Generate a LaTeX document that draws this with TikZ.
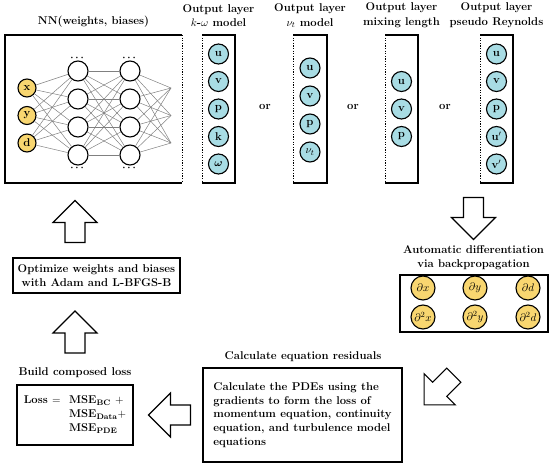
\documentclass[tikz,border=0pt]{standalone}
\usepackage{amsmath}
\usepackage{bm}
\usetikzlibrary{calc}

\definecolor{nodeyellow}{RGB}{248,214,112}
\definecolor{nodecyan}{RGB}{168,220,228}
\newcommand{\figfont}{\fontsize{11.3}{13.8}\selectfont\bfseries}

\begin{document}
\begin{tikzpicture}[x=1pt, y=-1pt, line width=1.1pt,
  every node/.style={font=\figfont},
  neuron/.style={circle, draw, minimum size=20pt, inner sep=0pt, fill=white},
  innode/.style={neuron, minimum size=18pt, fill=nodeyellow},
  outnode/.style={neuron, fill=nodecyan},
  gradnode/.style={neuron, minimum size=24pt, fill=nodeyellow, font=\fontsize{11}{13}\selectfont},
  textbox/.style={draw, inner sep=0pt},
  wire/.style={gray, line width=0.5pt},
  dashedge/.style={line width=0.9pt, dash pattern=on 1.3pt off 1.3pt},
  netdots/.style={font=\normalsize, inner sep=0pt},
  blockarrow/.pic={\draw[line join=miter] (0,-21) -- (22,1) -- (10,1) -- (10,21)
      -- (-10,21) -- (-10,1) -- (-22,1) -- cycle;}]
  \useasboundingbox (0,0) rectangle (550,468);

  % network
  \draw (182,35) -- (5,35) -- (5,183) -- (182,183);
  \draw[dashedge] (182,35) -- (182,183);
  \node at (93.5,22) {NN(weights, biases)};
  \node[innode] (in1) at (27,88) {x};
  \node[innode] (in2) at (27,115.5) {y};
  \node[innode] (in3) at (27,143) {d};
  \foreach \j in {1,...,4} {
    \node[neuron] (ha\j) at (78,{71+28*(\j-1)}) {};
    \node[neuron] (hb\j) at (130,{71+28*(\j-1)}) {};
  }
  \coordinate (out1) at (171,88);
  \coordinate (out2) at (171,115.5);
  \coordinate (out3) at (171,143);
  \foreach \j in {1,...,4} {
    \foreach \i in {1,2,3} {
      \draw[wire] (in\i) -- (ha\j);
      \draw[wire] (hb\j) -- (out\i);
    }
    \foreach \m in {1,...,4} \draw[wire] (ha\j) -- (hb\m);
  }
  \node[netdots] (dotsa) at (78,58) {$\bm{\cdots}$};
  \node[netdots] (dotsb) at (130,58) {$\bm{\cdots}$};
  \node[netdots] (dotsc) at (78,168) {$\bm{\cdots}$};
  \node[netdots] (dotsd) at (130,168) {$\bm{\cdots}$};

  % output layers
  \draw (202,35) -- (235,35) -- (235,183) -- (202,183);
  \draw[dashedge] (202,35) -- (202,183);
  \node[align=center] at (218.5,15.5) {Output layer\\[1pt]$k$-$\omega$ model};
  \foreach \lbl [count=\i] in {u,v,p,k,$\bm{\omega}$}
    \node[outnode] (kw\i) at (218.5,{54+27.5*(\i-1)}) {\lbl};
  \node (or1) at (265,107) {or};

  \draw (293,35) -- (327,35) -- (327,183) -- (293,183);
  \draw[dashedge] (293,35) -- (293,183);
  \node[align=center] at (310,15.5) {Output layer\\[1pt]$\nu_t$ model};
  \foreach \lbl [count=\i] in {u,v,p,$\nu_t$}
    \node[outnode] (nu\i) at (310,{68+28*(\i-1)}) {\lbl};
  \node (or2) at (353,107) {or};

  \draw (385,35) -- (418,35) -- (418,183) -- (385,183);
  \draw[dashedge] (385,35) -- (385,183);
  \node[align=center] at (401.5,15.5) {Output layer\\[1pt]mixing length};
  \foreach \lbl [count=\i] in {u,v,p}
    \node[outnode] (ml\i) at (401.5,{81.5+27.5*(\i-1)}) {\lbl};
  \node (or3) at (445,107) {or};

  \draw (480,35) -- (513,35) -- (513,183) -- (480,183);
  \draw[dashedge] (480,35) -- (480,183);
  \node[align=center] at (496.5,15.5) {Output layer\\[1pt]pseudo Reynolds};
  \foreach \lbl [count=\i] in {u,v,p,u$'$,v$'$}
    \node[outnode] (pr\i) at (496.5,{54+27.5*(\i-1)}) {\lbl};

  % automatic differentiation
  \pic[rotate=180] at (473.5,218.5) {blockarrow};
  \node[align=center] at (473.5,257.5) {Automatic differentiation\\via backpropagation};
  \draw (400,275) rectangle (548,332);
  \node[gradnode] (gx)  at (423,288) {$\partial x$};
  \node[gradnode] (gy)  at (475,288) {$\partial y$};
  \node[gradnode] (gd)  at (528,288) {$\partial d$};
  \node[gradnode] (gxx) at (423,317) {$\partial^2 x$};
  \node[gradnode] (gyy) at (475,317) {$\partial^2 y$};
  \node[gradnode] (gdd) at (528,317) {$\partial^2 d$};

  % residuals
  \pic[rotate=135] at (439,390) {blockarrow};
  \node at (303,357) {Calculate equation residuals};
  \node[textbox, minimum width=199pt, minimum height=94pt, align=left] (res) at (302.5,415)
    {Calculate the PDEs using the\\gradients to form the loss of\\momentum equation, continuity\\equation, and turbulence model\\equations};

  % loss
  \pic[rotate=90] at (169.5,415) {blockarrow};
  \node at (75,373) {Build composed loss};
  \node[textbox, minimum width=116pt, minimum height=60pt] (loss) at (75,415)
    {\begin{tabular}{@{}l@{\ \ }l@{}}Loss $=$ & MSE$_{\text{BC}}$ $+$\\
      & MSE$_{\text{Data}}$$+$\\ & MSE$_{\text{PDE}}$\end{tabular}};

  % optimizer
  \pic at (75,332) {blockarrow};
  \node[textbox, minimum width=167pt, minimum height=35pt, align=center] (opt) at (96.5,275.5)
    {Optimize weights and biases\\with Adam and L-BFGS-B};
  \pic at (75,221.5) {blockarrow};
\end{tikzpicture}
\end{document}
